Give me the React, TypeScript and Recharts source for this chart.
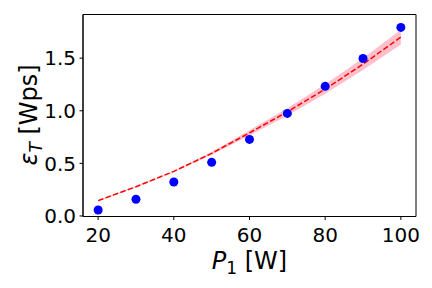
import {
  ComposedChart,
  Area,
  Line,
  Scatter,
  XAxis,
  YAxis,
  ReferenceArea,
  Label,
} from "recharts";

const powers = [20, 30, 40, 50, 60, 70, 80, 90, 100];
const measured = [0.057, 0.159, 0.323, 0.51, 0.728, 0.975, 1.232, 1.497, 1.792];
const fitted = [0.146, 0.278, 0.424, 0.595, 0.79, 0.99, 1.206, 1.443, 1.7];
const bandHalf = [0.006, 0.005, 0.006, 0.014, 0.024, 0.034, 0.045, 0.055, 0.07];
const xTicks = [20, 40, 60, 80, 100];
const yTicks = [0, 0.5, 1, 1.5];

const X_DOMAIN: [number, number] = [16, 104];
const Y_DOMAIN: [number, number] = [-0.005, 1.915];

const data = powers.map((p, i) => ({
  x: p,
  y: measured[i],
  fit: fitted[i],
  band: [fitted[i] - bandHalf[i], fitted[i] + bandHalf[i]],
}));

const FONT = "'DejaVu Sans', sans-serif";

function XTick(props: any) {
  const { x, payload } = props;
  return (
    <text x={x} y={242.3} textAnchor="middle" fontSize={20} fontFamily={FONT} fill="#000">
      {payload.value}
    </text>
  );
}

function YTick(props: any) {
  const { y, payload } = props;
  return (
    <text x={76} y={y + 7.3} textAnchor="end" fontSize={20} fontFamily={FONT} fill="#000">
      {Number(payload.value).toFixed(1)}
    </text>
  );
}

function Dot(props: any) {
  const { cx, cy } = props;
  return <circle cx={cx} cy={cy} r={4.5} fill="#0000ff" />;
}

export default function App() {
  return (
    <div style={{ position: "absolute", left: 0, top: 0, background: "#fff" }}>
      <ComposedChart
        width={432}
        height={288}
        data={data}
        margin={{ top: 14.5, right: 16, bottom: 31.5, left: 23 }}
      >
        <XAxis
          dataKey="x"
          type="number"
          domain={X_DOMAIN}
          ticks={xTicks}
          allowDataOverflow
          height={40}
          tickSize={3.5}
          stroke="#000"
          tick={<XTick />}
          tickLine={{ stroke: "#000" }}
        >
          <Label
            content={() => (
              <text x={249.5} y={269} textAnchor="middle" fontSize={24} fontFamily={FONT} fill="#000">
                <tspan fontStyle="italic">P</tspan>
                <tspan fontSize={17} dy={5}>1</tspan>
                <tspan dy={-5}> [W]</tspan>
              </text>
            )}
          />
        </XAxis>
        <YAxis
          type="number"
          domain={Y_DOMAIN}
          ticks={yTicks}
          allowDataOverflow
          width={60}
          tickSize={3.5}
          stroke="#000"
          tick={<YTick />}
          tickLine={{ stroke: "#000" }}
        >
          <Label
            content={() => (
              <text
                x={0}
                y={0}
                transform="translate(37,115) rotate(-90)"
                textAnchor="middle"
                fontSize={24}
                fontFamily={FONT}
                fill="#000"
              >
                <tspan fontStyle="italic">ε</tspan>
                <tspan fontStyle="italic" fontSize={17} dy={5}>T</tspan>
                <tspan dy={-5}> [Wps]</tspan>
              </text>
            )}
          />
        </YAxis>
        <Area
          dataKey="band"
          type="linear"
          stroke="none"
          fill="#ffc0cb"
          fillOpacity={1}
          isAnimationActive={false}
        />
        <Line
          dataKey="fit"
          type="linear"
          stroke="#ff0000"
          strokeWidth={1.5}
          strokeDasharray="5.5 2.4"
          dot={false}
          activeDot={false}
          isAnimationActive={false}
        />
        <Scatter dataKey="y" shape={<Dot />} isAnimationActive={false} />
        <ReferenceArea
          x1={X_DOMAIN[0]}
          x2={X_DOMAIN[1]}
          y1={Y_DOMAIN[0]}
          y2={Y_DOMAIN[1]}
          fill="none"
          stroke="#000"
          strokeWidth={1}
          ifOverflow="visible"
        />
      </ComposedChart>
    </div>
  );
}
